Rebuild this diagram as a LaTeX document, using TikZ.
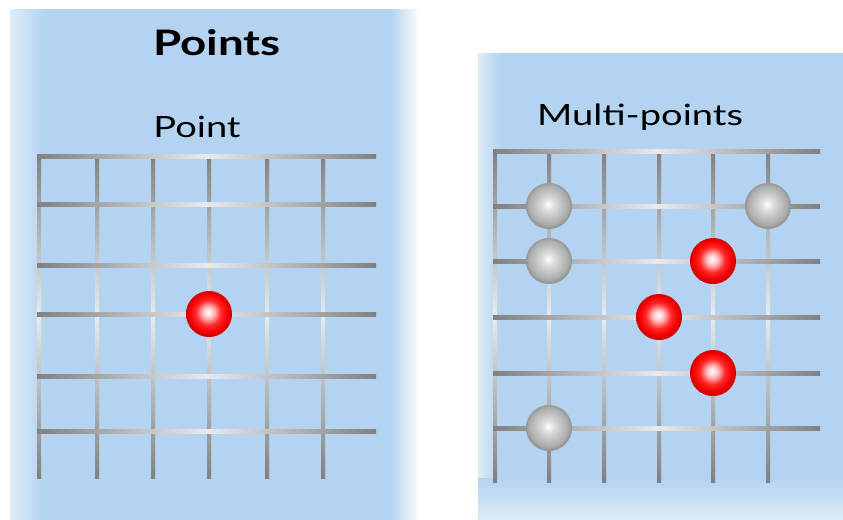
\documentclass[tikz,border=0pt]{standalone}
\usepackage{fontspec}
\setmainfont[FakeStretch=1.3]{Lato}
\usepackage{tikz}
\usetikzlibrary{positioning}
\definecolor{panelblue}{RGB}{179,211,240}
\definecolor{griddark}{RGB}{128,128,128}
\definecolor{gridlight}{RGB}{232,234,238}
\pgfdeclareradialshading{redsphere}{\pgfpoint{-1bp}{2bp}}{%
  color(0bp)=(white); color(6bp)=(red!25!white); color(14bp)=(red!85!white);
  color(21bp)=(red!95!black); color(25bp)=(red!80!black); color(50bp)=(red!80!black)}
\pgfdeclareradialshading{greysphere}{\pgfpoint{-1bp}{2bp}}{%
  color(0bp)=(white); color(6bp)=(gray!25); color(15bp)=(gray!50);
  color(21bp)=(gray!65); color(25bp)=(gray!85); color(50bp)=(gray!85)}

\begin{document}
\begin{tikzpicture}[x=0.03cm,y=-0.03cm,
  vline/.style={top color=griddark,bottom color=griddark,middle color=gridlight},
  hline/.style={left color=griddark,right color=griddark,middle color=gridlight},
  ball/.style={circle,minimum size=1.38cm,inner sep=0pt},
  redball/.style={ball,shading=redsphere},
  grayball/.style={ball,shading=greysphere},
  heading/.style={font=\fontsize{30}{34}\selectfont\bfseries},
  caption/.style={font=\fontsize{25}{29}\selectfont}]
  \useasboundingbox (0,0) rectangle (843,519);
  \fill[white] (0,0) rectangle (843,519);
  % left panel
  \fill[panelblue] (10,9) rectangle (420,524);
  \shade[left color=panelblue!45!white,right color=panelblue] (10,9) rectangle (45,524);
  \shade[left color=panelblue,right color=white] (390,9) rectangle (420,524);
  \node[heading] (title) at (217,43) {Points};
  \node[caption] (point) at (197,127) {Point};
  \foreach \x in {39,97,153,209,267,323}
    \shade[vline] (\x-2,154) rectangle (\x+2,478);
  \foreach \y in {156,204,265,314,376,431}
    \shade[hline] (37,\y-2) rectangle (376,\y+2);
  \node[redball] (p) at (209,314) {};
  % right panel
  \fill[panelblue] (478,53) rectangle (848,524);
  \shade[left color=panelblue!45!white,right color=panelblue] (478,53) rectangle (500,524);
  \foreach \i in {0,...,21}
    \fill[panelblue!\fpeval{100-2.6*\i}!white] (478,478+2*\i) rectangle (848,480.5+2*\i);
  \node[caption] (multi) at (640,117) {Multi-points};
  \foreach \x in {495,549,604,659,713,768}
    \shade[vline] (\x-2,149) rectangle (\x+2,482);
  \foreach \y in {151,206,261,317,373,428}
    \shade[hline] (493,\y-2) rectangle (820,\y+2);
  \node[grayball] (g1) at (549,206) {};
  \node[grayball] (g2) at (768,206) {};
  \node[grayball] (g3) at (549,261) {};
  \node[grayball] (g4) at (549,428) {};
  \node[redball] (r1) at (713,261) {};
  \node[redball] (r2) at (659,317) {};
  \node[redball] (r3) at (713,373) {};
\end{tikzpicture}
\end{document}
